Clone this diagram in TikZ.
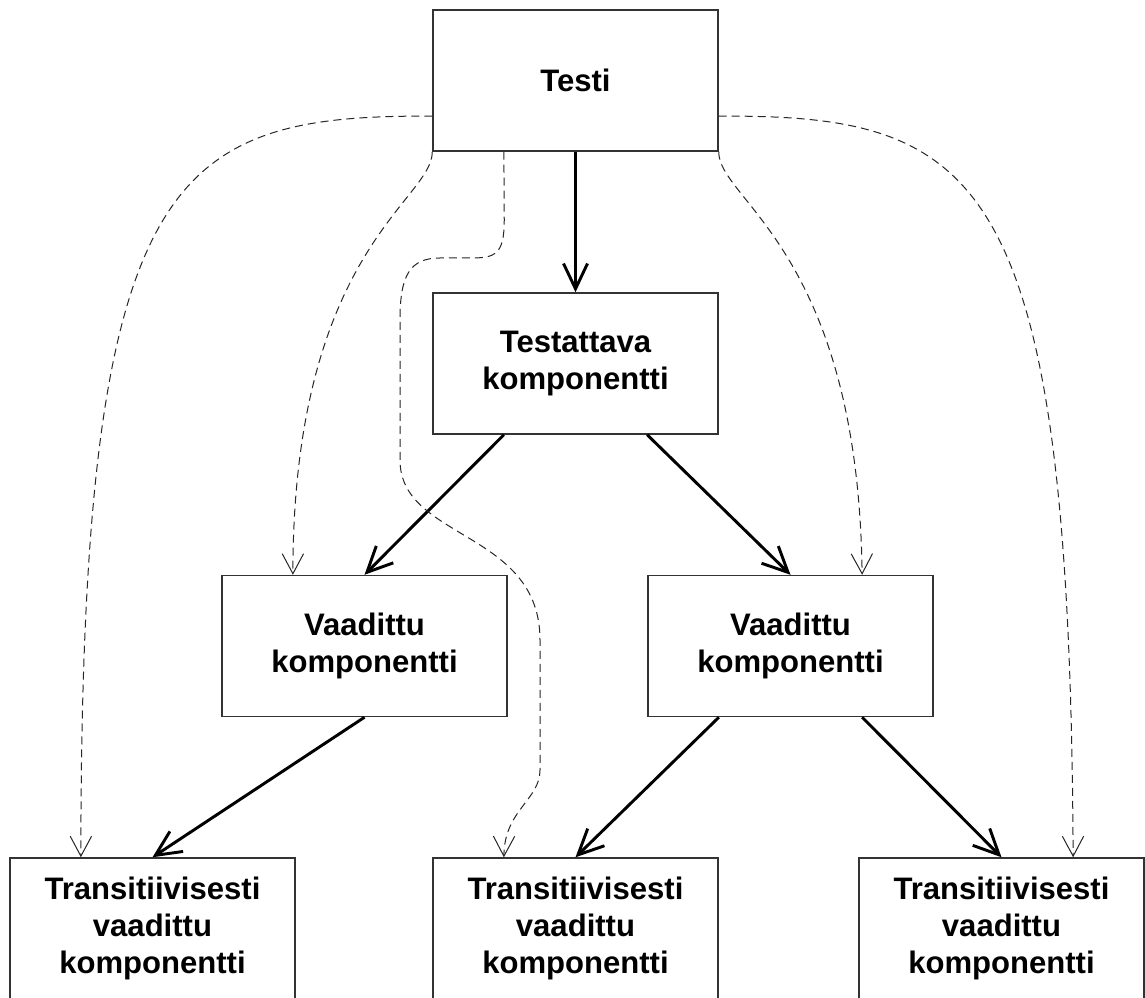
\documentclass[tikz,border=0pt]{standalone}
\usepackage{fontspec}
\setmainfont{Liberation Sans}
\usetikzlibrary{arrows.meta,calc}
\begin{document}
\begin{tikzpicture}[x=0.75pt,y=-0.75pt,
  box/.style={draw=black!80, line width=1.1pt, minimum width=213.75pt, minimum height=105.75pt, inner sep=0pt, align=center, font=\fontsize{23.3}{28}\selectfont\bfseries},
  dep/.style={line width=2.2pt, -{Straight Barb[length=19pt,width=18pt,line width=2.2pt]}},
  use/.style={line width=0.75pt, black!85, dash pattern=on 6pt off 3.75pt, -{Straight Barb[length=15pt,width=16pt,line width=0.75pt]}}]
\useasboundingbox (0,0) rectangle (1145,998);
\clip (0,0) rectangle (1145,998);
\node[box] (testi) at (575.5,80.5) {Testi};
\node[box] (tk) at (575.5,363.5) {Testattava\\komponentti};
\node[box] (vl) at (364.5,646) {Vaadittu\\komponentti};
\node[box] (vr) at (790.5,646) {Vaadittu\\komponentti};
\node[box] (bl) at (152.5,928.5) {Transitiivisesti\\vaadittu\\komponentti};
\node[box] (bm) at (575.5,928.5) {Transitiivisesti\\vaadittu\\komponentti};
\node[box] (br) at (1001.5,928.5) {Transitiivisesti\\vaadittu\\komponentti};
% solid dependencies
\draw[dep] (testi.south) -- (tk.north);
\draw[dep] ($(tk.south west)!.25!(tk.south east)$) -- (vl.north);
\draw[dep] ($(tk.south west)!.75!(tk.south east)$) -- (vr.north);
\draw[dep] (vl.south) -- (bl.north);
\draw[dep] ($(vr.south west)!.25!(vr.south east)$) -- (bm.north);
\draw[dep] ($(vr.south west)!.75!(vr.south east)$) -- (br.north);
% dashed uses
\draw[use] ($(testi.north west)!.75!(testi.south west)$) .. controls (170,115) and (81,170) .. ($(bl.north west)!.25!(bl.north east)$);
\draw[use] (testi.south west) .. controls (433,200) and (293,250) .. ($(vl.north west)!.25!(vl.north east)$);
\draw[use] (testi.south east) .. controls (718,200) and (858,250) .. ($(vr.north west)!.75!(vr.north east)$);
\draw[use] ($(testi.north east)!.75!(testi.south east)$) .. controls (981,115) and (1070,170) .. ($(br.north west)!.75!(br.north east)$);
\draw[use] ($(testi.south west)!.25!(testi.south east)$) -- (504.25,220) .. controls (504.25,255) and (495,258) .. (470,258) -- (440,258) .. controls (410,258) and (400,275) .. (400,320) -- (400,460) .. controls (400,540) and (540,530) .. (540,640) -- (540,770) .. controls (540,800) and (504.25,810) .. ($(bm.north west)!.25!(bm.north east)$);
\end{tikzpicture}
\end{document}
